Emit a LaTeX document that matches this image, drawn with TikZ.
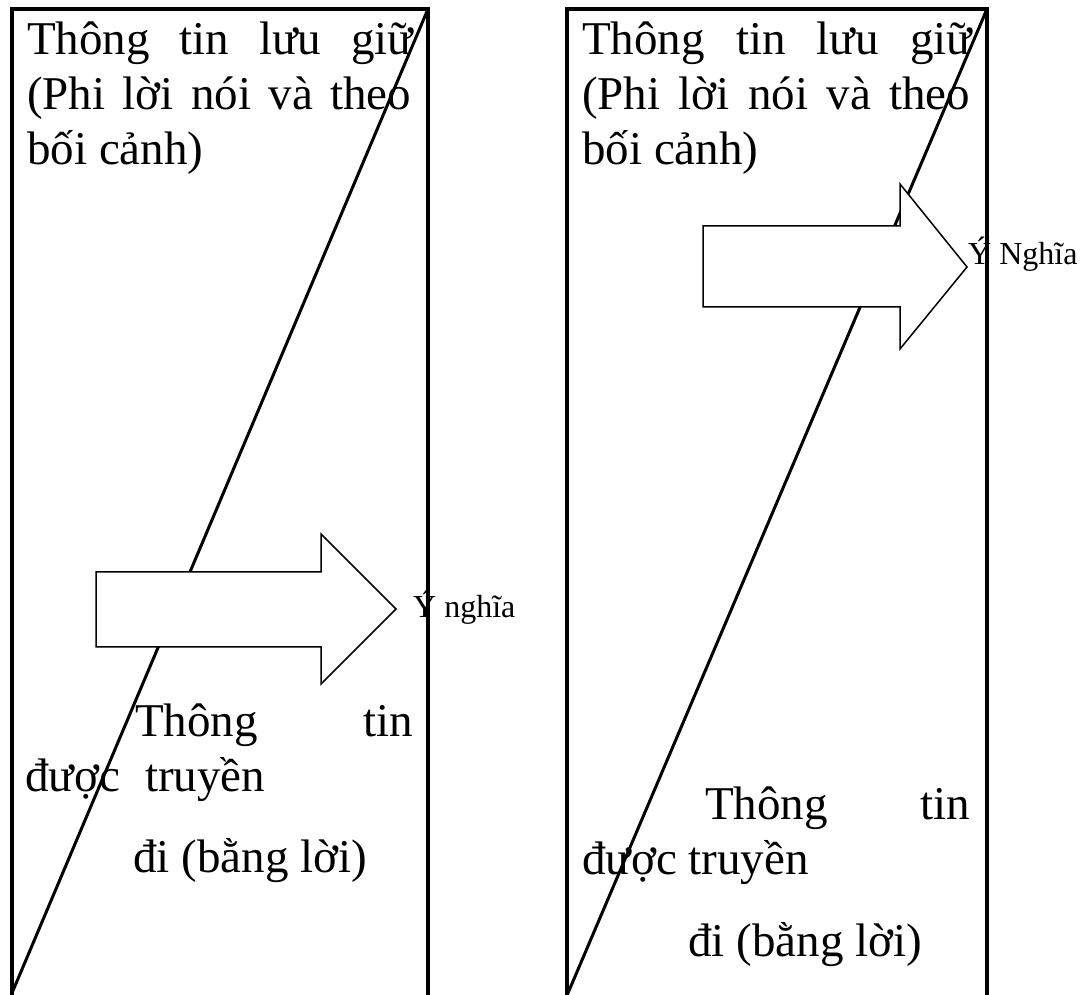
\documentclass[tikz,border=0pt]{standalone}
\usepackage{fontspec}
\setmainfont{Liberation Serif}
\begin{document}
\begin{tikzpicture}[x=1pt,y=1pt,
  frame/.style={line width=3.5pt,line join=miter},
  diag/.style={line width=3pt},
  bigarrow/.style={draw,fill=white,line width=1.5pt,line join=miter},
  bigtxt/.style={anchor=base west,inner sep=0pt,font=\fontsize{47}{55}\selectfont},
  smalltxt/.style={anchor=base west,inner sep=0pt,font=\fontsize{32}{38}\selectfont}]
\useasboundingbox (0,0) rectangle (1086,995);
% left panel
\coordinate (LTL) at (12,986);
\coordinate (LTR) at (428,986);
\coordinate (LBL) at (12,0);
\coordinate (LBR) at (428,0);
\coordinate (LDE) at (12,2);
\draw[frame] (LBL) -- (LTL) -- (LTR) -- (LBR);
\draw[diag] (LTR) -- (LDE);
% right panel
\coordinate (RTL) at (567,986);
\coordinate (RTR) at (987,986);
\coordinate (RBL) at (567,0);
\coordinate (RBR) at (987,0);
\coordinate (RDE) at (568,2);
\draw[frame] (RBL) -- (RTL) -- (RTR) -- (RBR);
\draw[diag] (RTR) -- (RDE);
% arrows
\draw[bigarrow] (96,423) -- (321,423) -- (321,461) -- (396,386) -- (321,311) -- (321,348) -- (96,348) -- cycle;
\draw[bigarrow] (703,769) -- (900,769) -- (900,811) -- (967,728) -- (900,646) -- (900,688) -- (703,688) -- cycle;
% left texts
\node[bigtxt] (lt1) at (27,940) {\hbox to 386pt{Thông\hfill tin\hfill lưu\hfill giữ}};
\node[bigtxt] (lt2) at (27,885) {\hbox to 384pt{(Phi\hfill lời\hfill nói\hfill và\hfill theo}};
\node[bigtxt] (lt3) at (27,830) {bối cảnh)};
\node[bigtxt] (lb1) at (135,258) {\hbox to 278pt{Thông\hfill tin}};
\node[bigtxt] (lb2a) at (25,203) {được};
\node[bigtxt] (lb2b) at (145,203) {truyền};
\node[bigtxt] (lb3) at (133,122) {đi (bằng lời)};
\node[smalltxt] (lmean) at (413,377) {Ý nghĩa};
% right texts
\node[bigtxt] (rt1) at (582,940) {\hbox to 390pt{Thông\hfill tin\hfill lưu\hfill giữ}};
\node[bigtxt] (rt2) at (582,885) {\hbox to 388pt{(Phi\hfill lời\hfill nói\hfill và\hfill theo}};
\node[bigtxt] (rt3) at (582,830) {bối cảnh)};
\node[bigtxt] (rb1) at (705,175) {\hbox to 265pt{Thông\hfill tin}};
\node[bigtxt] (rb2) at (582,120) {được truyền};
\node[bigtxt] (rb3) at (688,38) {đi (bằng lời)};
\node[smalltxt] (rmean) at (968,730) {Ý Nghĩa};
\end{tikzpicture}
\end{document}
